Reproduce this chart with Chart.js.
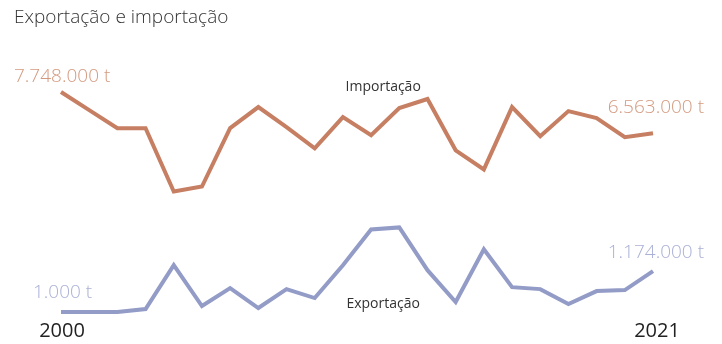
<!DOCTYPE html>
<html>
<head>
<meta charset="utf-8">
<script src="https://cdn.jsdelivr.net/npm/chart.js@4"></script>
<style>
  html, body { margin: 0; padding: 0; background: #fff; }
  #wrap { position: relative; width: 722px; height: 344px; }
</style>
</head>
<body>
<div id="wrap"><canvas id="chart" width="722" height="344"></canvas></div>
<script>
// Years 2000..2021
const years = ['2000','2001','2002','2003','2004','2005','2006','2007','2008','2009','2010',
  '2011','2012','2013','2014','2015','2016','2017','2018','2019','2020','2021'];

// Tonnes
const importacao = [7748000, 7228000, 6708000, 6708000, 4887000, 5031000, 6708000, 7314000,
  6736000, 6130000, 7025000, 6505000, 7286000, 7546000, 6072000, 5523000, 7314000,
  6476000, 7199000, 6997000, 6447000, 6563000];
const exportacao = [1000, 1000, 1000, 87000, 1346000, 173000, 688000, 115000, 659000,
  402000, 1346000, 2376000, 2433000, 1203000, 287000, 1803000, 716000, 659000, 230000,
  602000, 630000, 1174000];

const titulo = 'Exportação e importação';

const corImp = '#c67f62';
const corExp = '#939bc7';
const corImpTxt = '#d49a80';
const corExpTxt = '#aab0d6';
const fonte = '"Open Sans", "Segoe UI", sans-serif';

const fmt = v => v.toLocaleString('de-DE') + ' t';

// title, year labels and value labels, positioned from the scales
const rotulos = {
  id: 'rotulos',
  afterDatasetsDraw(chart) {
    const ctx = chart.ctx;
    const x = chart.scales.x;
    const yi = chart.scales.yImp;
    const ye = chart.scales.yExp;
    const last = years.length - 1;
    ctx.save();
    ctx.textBaseline = 'alphabetic';

    ctx.font = '300 19px ' + fonte;
    ctx.fillStyle = '#333';
    ctx.textAlign = 'left';
    ctx.fillText(titulo, 14, 23);

    ctx.fillStyle = corImpTxt;
    ctx.fillText(fmt(importacao[0]), x.getPixelForValue(0) - 47, yi.getPixelForValue(importacao[0]) - 10);
    ctx.textAlign = 'right';
    ctx.fillText(fmt(importacao[last]), x.getPixelForValue(last) + 51, yi.getPixelForValue(importacao[last]) - 20);

    ctx.fillStyle = corExpTxt;
    ctx.textAlign = 'left';
    ctx.fillText(fmt(exportacao[0]), x.getPixelForValue(0) - 28, ye.getPixelForValue(exportacao[0]) - 14);
    ctx.textAlign = 'right';
    ctx.fillText(fmt(exportacao[last]), x.getPixelForValue(last) + 51, ye.getPixelForValue(exportacao[last]) - 13);

    ctx.font = '20px ' + fonte;
    ctx.fillStyle = '#222';
    ctx.textAlign = 'center';
    ctx.fillText(years[0], x.getPixelForValue(0) + 1, 337);
    ctx.fillText(years[last], x.getPixelForValue(last) + 4, 337);

    ctx.font = '14px ' + fonte;
    ctx.fillStyle = '#333';
    const xm = (x.getPixelForValue(11) + x.getPixelForValue(12)) / 2 - 2;
    ctx.fillText('Importação', xm, 91);
    ctx.fillText('Exportação', xm, 308);
    ctx.restore();
  }
};

// same tonnes-per-pixel on both axes, each with its own offset
const tPorPx = 28750;
const topo = 60, base = 320, refImp = 92, refExp = 312;

new Chart(document.getElementById('chart'), {
  type: 'line',
  data: {
    labels: years,
    datasets: [
      { label: 'Importação', data: importacao, yAxisID: 'yImp', borderColor: corImp,
        borderWidth: 4, pointRadius: 0, tension: 0, borderJoinStyle: 'miter' },
      { label: 'Exportação', data: exportacao, yAxisID: 'yExp', borderColor: corExp,
        borderWidth: 4, pointRadius: 0, tension: 0, borderJoinStyle: 'miter' }
    ]
  },
  options: {
    responsive: false,
    animation: false,
    layout: { padding: { left: 61, right: 69, top: topo, bottom: 344 - base } },
    plugins: {
      legend: { display: false },
      tooltip: { enabled: false },
      title: { display: false }
    },
    scales: {
      x: { display: false, offset: false },
      yImp: {
        display: false,
        min: importacao[0] - (base - refImp) * tPorPx,
        max: importacao[0] + (refImp - topo) * tPorPx
      },
      yExp: {
        display: false,
        min: exportacao[0] - (base - refExp) * tPorPx,
        max: exportacao[0] + (refExp - topo) * tPorPx
      }
    }
  },
  plugins: [rotulos]
});
</script>
</body>
</html>
